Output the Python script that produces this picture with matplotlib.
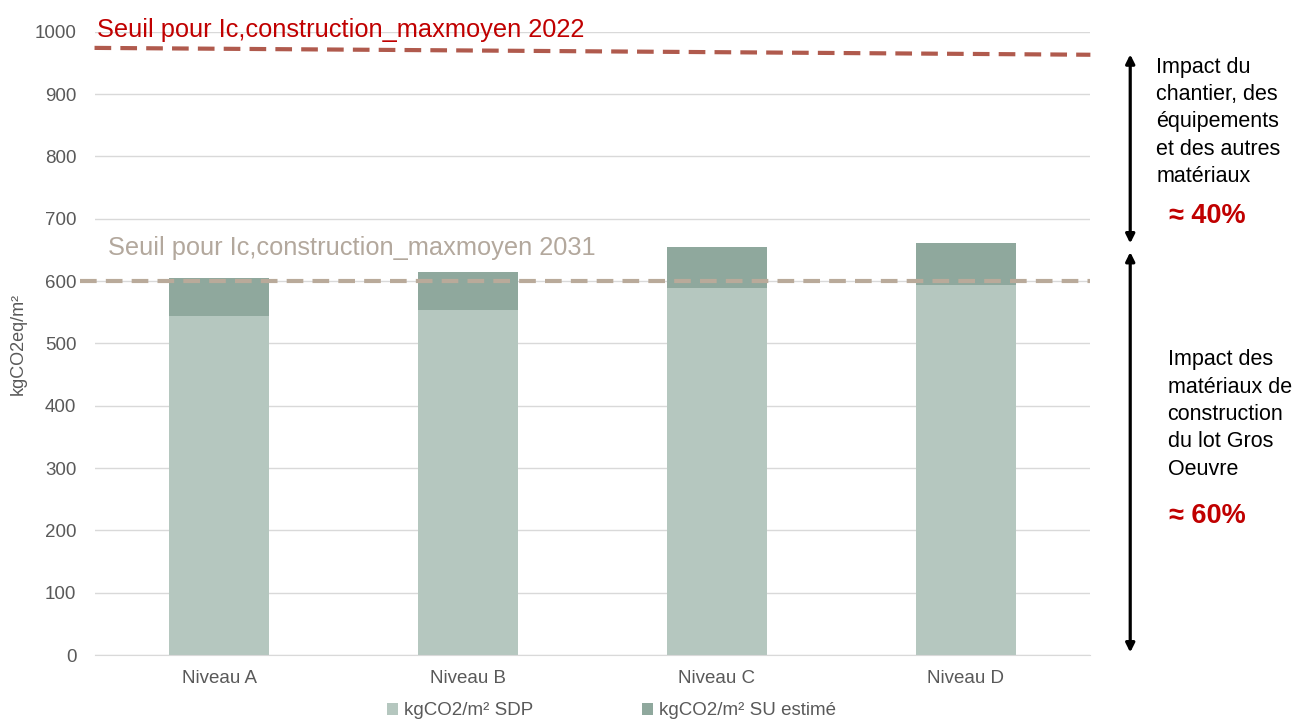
import matplotlib
matplotlib.use("Agg")
import matplotlib.pyplot as plt
from matplotlib.patches import FancyArrowPatch

plt.rcParams['font.family'] = ['Liberation Sans', 'DejaVu Sans']

categories = ["Niveau A", "Niveau B", "Niveau C", "Niveau D"]
sdp = [544, 554, 589, 594]
su_total = [605, 615, 655, 661]
su_extra = [t - s for t, s in zip(su_total, sdp)]
seuil_2022 = [974, 963]   # start / end of the 2022 threshold line
seuil_2031 = [600, 600]
yticks = [0, 100, 200, 300, 400, 500, 600, 700, 800, 900, 1000]

c_sdp = "#b5c7bf"
c_su = "#8fa89d"
c_2022_line = "#b05a4d"
c_2022_text = "#c00000"
c_2031_line = "#b9aa9a"
c_2031_text = "#b3a89d"
c_tick = "#595959"

fig = plt.figure(figsize=(12.95, 7.2), dpi=100)
ax = fig.add_axes([0.073, 0.09, 0.769, 0.866])

x = list(range(len(categories)))
ax.bar(x, sdp, width=0.4, color=c_sdp, zorder=2, label="kgCO2/m² SDP")
ax.bar(x, su_extra, width=0.4, bottom=sdp, color=c_su, zorder=2,
       label="kgCO2/m² SU estimé")

ax.set_xlim(-0.5, 3.5)
ax.set_ylim(0, 1000)
ax.set_yticks(yticks)
ax.set_xticks(x)
ax.set_xticklabels(categories)
ax.tick_params(axis='both', colors=c_tick, labelsize=13.5, length=0)
ax.tick_params(axis='x', pad=11)
ax.tick_params(axis='y', pad=13)
ax.grid(axis='y', color="#d9d9d9", linewidth=1, zorder=0)
for s in ["top", "right", "left"]:
    ax.spines[s].set_visible(False)
ax.spines["bottom"].set_color("#d9d9d9")
ax.set_ylabel("kgCO2eq/m²", color=c_tick, fontsize=13, labelpad=6)

# threshold lines
ax.plot([-0.5, 3.5], seuil_2022, color=c_2022_line, linestyle=(0, (4, 2.2)),
        linewidth=3, zorder=3, clip_on=False)
ax.plot([-0.56, 3.5], seuil_2031, color=c_2031_line, linestyle=(0, (4, 2.2)),
        linewidth=3, zorder=3, clip_on=False)
ax.text(-0.49, 983, "Seuil pour Ic,construction_maxmoyen 2022", color=c_2022_text,
        fontsize=18.3, va="bottom", ha="left", zorder=4)
ax.text(-0.445, 634, "Seuil pour Ic,construction_maxmoyen 2031", color=c_2031_text,
        fontsize=18.3, va="bottom", ha="left", zorder=4)

# right-hand annotations
xa = 3.66
for y0, y1 in [(968, 656), (651, 0)]:
    ax.add_patch(FancyArrowPatch((xa, y0), (xa, y1), arrowstyle="<|-|>",
                                 mutation_scale=13, color="black", lw=2.3,
                                 clip_on=False))
ax.text(3.765, 960, "Impact du\nchantier, des\néquipements\net des autres\nmatériaux",
        fontsize=15.5, va="top", ha="left", linespacing=1.4, clip_on=False)
ax.text(3.815, 705, "≈ 40%", fontsize=19.5, fontweight="bold", color=c_2022_text,
        va="center", ha="left")
ax.text(3.81, 386, "Impact des\nmatériaux de\nconstruction\ndu lot Gros\nOeuvre",
        fontsize=15.5, va="center", ha="left", linespacing=1.4, clip_on=False)
ax.text(3.815, 223, "≈ 60%", fontsize=19.5, fontweight="bold", color=c_2022_text,
        va="center", ha="left")

handles, labels = ax.get_legend_handles_labels()
leg = fig.legend(handles=handles, labels=labels,
                 loc="lower center", bbox_to_anchor=(0.472, -0.012), ncol=2,
                 frameon=False, fontsize=13.5, handlelength=0.6, handleheight=0.6,
                 handletextpad=0.3, columnspacing=5.8, borderaxespad=0.1)
for t in leg.get_texts():
    t.set_color(c_tick)

fig.savefig("out.png", dpi=100)
